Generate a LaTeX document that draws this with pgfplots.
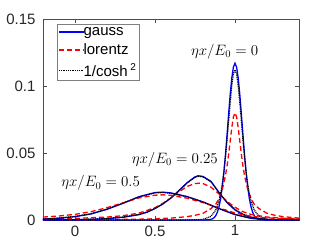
\RequirePackage{fix-cm}
\documentclass[border=0pt]{standalone}
\usepackage{fontspec}
\setmainfont{Liberation Sans}
\usepackage{pgfplots}
\pgfplotsset{compat=1.18}
\usepackage{pgfplotstable}

\pgfplotstableread{
E v
-0.2 0
0.80 0
0.84 0.0002
0.86 0.0009
0.87 0.0018
0.88 0.0033
0.89 0.0059
0.90 0.0099
0.91 0.0158
0.92 0.0241
0.93 0.0349
0.94 0.0481
0.95 0.0631
0.96 0.0788
0.97 0.0937
0.98 0.1060
0.99 0.1141
1.00 0.1170
1.01 0.1141
1.02 0.1060
1.03 0.0937
1.04 0.0788
1.05 0.0631
1.06 0.0481
1.07 0.0349
1.08 0.0241
1.09 0.0158
1.10 0.0099
1.11 0.0059
1.12 0.0033
1.13 0.0018
1.14 0.0009
1.16 0.0002
1.20 0
1.4 0
}\gaussA

\pgfplotstableread{
E v
-0.2 0.0001
0.0 0.0002
0.2 0.0003
0.4 0.0006
0.5 0.0009
0.6 0.0014
0.7 0.0025
0.75 0.0035
0.80 0.0050
0.85 0.0085
0.88 0.0118
0.90 0.0160
0.92 0.0225
0.94 0.0328
0.95 0.0400
0.96 0.0488
0.97 0.0588
0.98 0.0690
0.99 0.0769
1.00 0.0800
1.01 0.0769
1.02 0.0690
1.03 0.0588
1.04 0.0488
1.05 0.0400
1.06 0.0328
1.08 0.0225
1.10 0.0160
1.12 0.0118
1.15 0.0085
1.20 0.0050
1.25 0.0035
1.30 0.0025
1.40 0.0014
}\lorA

\pgfplotstableread{
E v
-0.2 0
0.70 0
0.80 0.0005
0.85 0.0027
0.88 0.0075
0.90 0.0143
0.91 0.0196
0.92 0.0265
0.93 0.0353
0.94 0.0464
0.95 0.0593
0.96 0.0735
0.97 0.0877
0.98 0.1003
0.99 0.1090
1.00 0.1120
1.01 0.1090
1.02 0.1003
1.03 0.0877
1.04 0.0735
1.05 0.0593
1.06 0.0464
1.07 0.0353
1.08 0.0265
1.09 0.0196
1.10 0.0143
1.12 0.0075
1.15 0.0027
1.20 0.0005
1.30 0
1.4 0
}\coshA

\pgfplotstableread{
E v
-0.2 0
0.0 0.0002
0.1 0.0005
0.2 0.0010
0.3 0.0020
0.4 0.0040
0.45 0.0058
0.5 0.0085
0.55 0.0120
0.6 0.0165
0.65 0.0220
0.7 0.0278
0.75 0.0322
0.77 0.0330
0.8 0.0325
0.85 0.0288
0.9 0.0205
0.95 0.0130
1.0 0.0075
1.05 0.0040
1.1 0.0020
1.15 0.0009
1.2 0.0003
1.3 0
1.4 0
}\gaussB

\pgfplotstableread{
E v
-0.2 0.0008
0.0 0.0012
0.2 0.0022
0.3 0.0032
0.4 0.0052
0.5 0.0092
0.55 0.0125
0.6 0.0165
0.65 0.0210
0.7 0.0250
0.75 0.0272
0.78 0.0275
0.8 0.0272
0.85 0.0245
0.9 0.0195
0.95 0.0140
1.0 0.0095
1.05 0.0062
1.1 0.0042
1.2 0.0022
1.3 0.0013
1.4 0.0009
}\lorB

\pgfplotstableread{
E v
-0.2 0.0001
0.0 0.0003
0.1 0.0006
0.2 0.0012
0.3 0.0022
0.4 0.0042
0.45 0.0060
0.5 0.0087
0.55 0.0121
0.6 0.0165
0.65 0.0218
0.7 0.0275
0.75 0.0318
0.77 0.0326
0.8 0.0321
0.85 0.0285
0.9 0.0205
0.95 0.0133
1.0 0.0079
1.05 0.0044
1.1 0.0023
1.15 0.0011
1.2 0.0005
1.3 0.0001
1.4 0
}\coshB

\pgfplotstableread{
E v
-0.2 0.0006
-0.1 0.0013
0.0 0.0025
0.1 0.0045
0.2 0.0080
0.3 0.0125
0.4 0.0174
0.5 0.0205
0.55 0.0208
0.6 0.0202
0.7 0.0175
0.8 0.0135
0.9 0.0085
1.0 0.0040
1.1 0.0012
1.2 0.0002
1.3 0
1.4 0
}\gaussC

\pgfplotstableread{
E v
-0.2 0.0022
-0.1 0.0030
0.0 0.0042
0.1 0.0062
0.2 0.0092
0.3 0.0128
0.4 0.0165
0.5 0.0185
0.55 0.0188
0.6 0.0184
0.7 0.0163
0.8 0.0130
0.9 0.0090
1.0 0.0052
1.1 0.0028
1.2 0.0016
1.3 0.0010
1.4 0.0007
}\lorC

\pgfplotstableread{
E v
-0.2 0.0008
-0.1 0.0015
0.0 0.0027
0.1 0.0047
0.2 0.0081
0.3 0.0125
0.4 0.0172
0.5 0.0202
0.55 0.0205
0.6 0.0199
0.7 0.0174
0.8 0.0134
0.9 0.0086
1.0 0.0042
1.1 0.0014
1.2 0.0004
1.3 0.0001
1.4 0
}\coshC

\begin{document}
\begin{tikzpicture}
\useasboundingbox (-43pt,-27pt) rectangle (289pt,220pt);
\begin{axis}[
  at={(0pt,0pt)}, anchor=south west,
  scale only axis,
  width=256pt, height=201pt,
  xmin=-0.2, xmax=1.4, ymin=0, ymax=0.15,
  xtick={0,0.5,1}, xticklabels={0,0.5,1},
  ytick={0,0.05,0.1,0.15}, yticklabels={0,0.05,0.1,0.15},
  tick align=inside, major tick length=4pt,
  axis line style={draw=black!70},
  tick style={draw=black!70},
  every tick label/.append style={font=\fontsize{15}{18}\selectfont, text=black!85},
  yticklabel style={xshift=-4pt},
  xticklabel style={yshift=-2pt},
  /pgf/number format/assume math mode=true,
  legend style={at={(axis description cs:0.055,0.975)}, anchor=north west,
    draw=black!50, font=\fontsize{15}{17}\selectfont, inner sep=1pt,
    row sep=3pt, cells={anchor=west},
    /tikz/every odd column/.append style={column sep=-3pt}},
  legend image code/.code={\draw[#1] (0pt,0pt) -- (25pt,0pt);},
  clip=true,
]
\addplot[blue, line width=1.3pt] table[x=E,y=v] {\gaussA};
\addlegendentry{gauss}
\addplot[red, dashed, line width=1.3pt, dash pattern=on 5pt off 3pt] table[x=E,y=v] {\lorA};
\addlegendentry{lorentz}
\addplot[black, dotted, line width=1.2pt, dash pattern=on 1pt off 0.8pt] table[x=E,y=v] {\coshA};
\addlegendentry{1/cosh\,\raisebox{0.75ex}{\fontsize{10}{10}\selectfont 2}}

\addplot[blue, line width=1.3pt, forget plot] table[x=E,y=v] {\gaussB};
\addplot[red, line width=1.3pt, dash pattern=on 5pt off 3pt, forget plot] table[x=E,y=v] {\lorB};
\addplot[black, line width=1.2pt, dash pattern=on 1pt off 0.8pt, forget plot] table[x=E,y=v] {\coshB};

\addplot[blue, line width=1.3pt, forget plot] table[x=E,y=v] {\gaussC};
\addplot[red, line width=1.3pt, dash pattern=on 5pt off 3pt, forget plot] table[x=E,y=v] {\lorC};
\addplot[black, line width=1.2pt, dash pattern=on 1pt off 0.8pt, forget plot] table[x=E,y=v] {\coshC};

\node[font=\fontsize{15}{18}\selectfont] at (axis cs:0.935,0.1254) {$\eta x/E_0=0$};
\node[font=\fontsize{15}{18}\selectfont] at (axis cs:0.624,0.0448) {$\eta x/E_0=0.25$};
\node[font=\fontsize{15}{18}\selectfont] at (axis cs:0.16,0.0276) {$\eta x/E_0=0.5$};
\node[font=\fontsize{15}{18}\selectfont] at (axis description cs:0.95,-0.075) {$E/E_0$};
\node[font=\fontsize{15}{18}\selectfont, rotate=90] at (axis description cs:-0.121,0.07) {$b(E,x)$};
\end{axis}
\end{tikzpicture}
\end{document}
